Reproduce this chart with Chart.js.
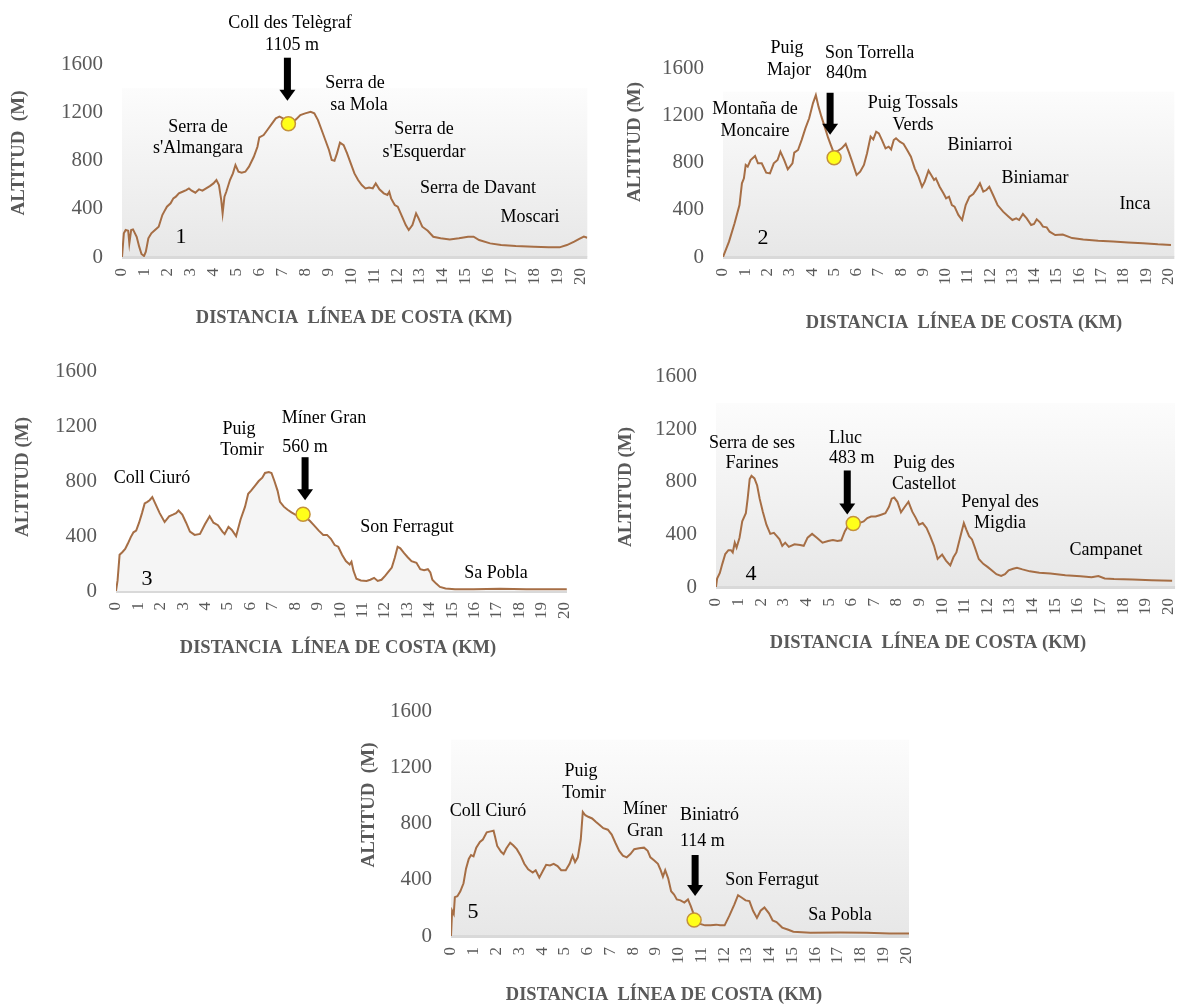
<!DOCTYPE html>
<html>
<head>
<meta charset="utf-8">
<script src="https://cdn.jsdelivr.net/npm/chart.js@4.4.1/dist/chart.umd.min.js"></script>
<style>
  html, body { margin: 0; padding: 0; background: #fff; overflow: hidden; width: 1178px; height: 1004px; position: relative; }
  canvas { position: absolute; }
</style>
</head>
<body>
<canvas id="c1"></canvas>
<canvas id="c2"></canvas>
<canvas id="c3"></canvas>
<canvas id="c4"></canvas>
<canvas id="c5"></canvas>
<script>
// ---- Elevation profiles: distance from the coast (km) and altitude (m) ----
const km1 = [0, 0.08, 0.16, 0.27, 0.32, 0.40, 0.48, 0.64, 0.75, 0.85, 0.96, 1.04, 1.15, 1.28, 1.44, 1.60, 1.76, 1.84, 1.96, 2.12, 2.24, 2.35, 2.48, 2.64, 2.80, 2.92, 3.04, 3.20, 3.36, 3.51, 3.67, 3.83, 3.99, 4.12, 4.23, 4.33, 4.39, 4.47, 4.55, 4.71, 4.84, 4.95, 5.08, 5.22, 5.38, 5.54, 5.75, 5.91, 5.99, 6.18, 6.34, 6.55, 6.71, 6.87, 7.11, 7.43, 7.59, 7.78, 7.99, 8.23, 8.39, 8.55, 8.71, 8.87, 9.03, 9.15, 9.27, 9.38, 9.51, 9.67, 9.82, 9.98, 10.14, 10.30, 10.46, 10.62, 10.78, 10.94, 11.07, 11.23, 11.42, 11.58, 11.66, 11.74, 11.90, 12.03, 12.22, 12.38, 12.51, 12.67, 12.83, 12.94, 13.10, 13.34, 13.58, 13.90, 14.30, 14.70, 15.10, 15.34, 15.58, 16.06, 16.54, 17.18, 17.97, 18.61, 19.09, 19.41, 19.73, 19.95, 20.15, 20.3];
const alt1 = [0, 196, 224, 218, 113, 224, 229, 168, 86, 25, 8, 44, 155, 196, 224, 251, 348, 376, 417, 445, 486, 500, 528, 541, 555, 569, 550, 533, 561, 550, 569, 588, 610, 638, 597, 472, 362, 500, 541, 638, 693, 762, 707, 699, 707, 749, 831, 914, 992, 1011, 1053, 1108, 1149, 1163, 1141, 1121, 1141, 1177, 1191, 1204, 1191, 1135, 1053, 970, 887, 804, 798, 859, 948, 928, 859, 776, 693, 638, 597, 569, 575, 569, 610, 561, 528, 514, 541, 486, 431, 417, 334, 265, 224, 265, 362, 320, 251, 218, 168, 155, 146, 155, 168, 168, 141, 113, 99, 91, 86, 80, 80, 99, 127, 150, 170, 160];

const km2 = [0, 0.27, 0.52, 0.74, 0.85, 0.94, 1.02, 1.11, 1.24, 1.44, 1.57, 1.74, 1.94, 2.11, 2.28, 2.45, 2.58, 2.75, 2.91, 3.12, 3.20, 3.37, 3.53, 3.70, 3.87, 4.04, 4.17, 4.29, 4.42, 4.59, 4.72, 4.84, 4.97, 5.13, 5.33, 5.51, 5.66, 5.80, 6.00, 6.16, 6.33, 6.47, 6.63, 6.75, 6.88, 7.00, 7.14, 7.30, 7.44, 7.55, 7.67, 7.77, 7.94, 8.11, 8.27, 8.44, 8.61, 8.78, 8.94, 9.06, 9.23, 9.35, 9.48, 9.56, 9.73, 9.90, 10.02, 10.15, 10.28, 10.40, 10.57, 10.74, 10.90, 11.07, 11.24, 11.41, 11.54, 11.69, 11.83, 11.96, 12.13, 12.33, 12.58, 12.83, 13.00, 13.17, 13.30, 13.47, 13.64, 13.84, 13.97, 14.09, 14.25, 14.37, 14.54, 14.67, 14.92, 15.26, 15.68, 16.18, 16.85, 17.52, 18.19, 18.86, 19.53, 20.12];
const alt2 = [0, 130, 285, 440, 624, 666, 779, 765, 821, 855, 793, 793, 714, 708, 793, 821, 892, 821, 742, 793, 883, 906, 990, 1089, 1174, 1301, 1371, 1273, 1188, 1089, 1010, 950, 885, 895, 920, 957, 883, 807, 694, 722, 779, 878, 1019, 996, 1061, 1047, 990, 920, 934, 911, 990, 1005, 976, 957, 906, 849, 751, 680, 595, 638, 731, 694, 652, 666, 595, 539, 497, 511, 440, 426, 356, 313, 440, 511, 533, 581, 624, 553, 567, 595, 525, 440, 384, 341, 313, 327, 313, 364, 327, 271, 279, 319, 291, 257, 251, 214, 186, 190, 160, 148, 138, 131, 123, 116, 107, 102];

const km3 = [0, 0.07, 0.16, 0.28, 0.41, 0.53, 0.66, 0.78, 0.90, 1.03, 1.16, 1.28, 1.40, 1.50, 1.62, 1.75, 1.95, 2.17, 2.37, 2.54, 2.68, 2.79, 2.96, 3.13, 3.30, 3.51, 3.75, 3.97, 4.18, 4.35, 4.55, 4.75, 4.85, 5.02, 5.17, 5.36, 5.56, 5.76, 5.90, 6.03, 6.20, 6.37, 6.53, 6.65, 6.82, 6.94, 7.07, 7.21, 7.32, 7.49, 7.66, 7.83, 8.00, 8.17, 8.50, 8.66, 8.83, 9.05, 9.25, 9.42, 9.59, 9.76, 9.92, 10.09, 10.26, 10.43, 10.51, 10.60, 10.73, 10.93, 11.18, 11.35, 11.52, 11.68, 11.85, 12.02, 12.19, 12.31, 12.44, 12.57, 12.69, 12.86, 13.02, 13.19, 13.41, 13.58, 13.75, 13.92, 14.03, 14.12, 14.29, 14.46, 14.71, 15.13, 15.96, 17.14, 18.31, 19.32, 20.12];
const alt3 = [0, 77, 264, 283, 306, 346, 393, 428, 440, 498, 568, 639, 650, 662, 685, 639, 568, 503, 545, 557, 568, 587, 557, 498, 433, 409, 416, 487, 545, 498, 480, 433, 416, 468, 445, 400, 522, 615, 709, 732, 767, 802, 826, 861, 868, 861, 802, 732, 650, 615, 592, 573, 557, 550, 533, 510, 480, 440, 409, 409, 381, 335, 323, 264, 218, 194, 213, 147, 89, 77, 73, 82, 96, 73, 82, 112, 147, 171, 241, 323, 311, 276, 246, 218, 206, 159, 152, 159, 136, 82, 54, 30, 19, 12, 12, 16, 12, 12, 12];

const km4 = [0, 0.05, 0.17, 0.28, 0.41, 0.55, 0.66, 0.74, 0.83, 0.91, 1.04, 1.16, 1.32, 1.40, 1.49, 1.57, 1.70, 1.82, 1.93, 2.07, 2.23, 2.40, 2.56, 2.69, 2.81, 2.93, 3.06, 3.22, 3.47, 3.72, 3.88, 4.05, 4.25, 4.46, 4.71, 4.96, 5.17, 5.37, 5.54, 5.70, 5.87, 6.05, 6.33, 6.53, 6.69, 6.86, 7.06, 7.27, 7.49, 7.65, 7.77, 7.88, 8.02, 8.18, 8.35, 8.51, 8.68, 8.84, 8.98, 9.14, 9.31, 9.47, 9.64, 9.80, 10.00, 10.17, 10.36, 10.50, 10.63, 10.83, 10.96, 11.07, 11.19, 11.32, 11.45, 11.62, 11.82, 12.02, 12.23, 12.40, 12.61, 12.78, 12.94, 13.14, 13.31, 13.55, 13.88, 14.30, 14.79, 15.45, 16.12, 16.61, 16.91, 17.19, 17.60, 18.43, 19.26, 20.17];
const alt4 = [0, 65, 107, 176, 251, 280, 280, 263, 337, 300, 375, 499, 561, 672, 821, 846, 826, 772, 672, 573, 474, 404, 412, 387, 362, 313, 337, 305, 325, 320, 313, 375, 404, 375, 337, 350, 357, 350, 355, 424, 474, 490, 486, 499, 524, 536, 536, 548, 561, 610, 672, 680, 648, 568, 610, 648, 573, 524, 474, 486, 449, 387, 313, 213, 246, 201, 164, 226, 263, 400, 486, 437, 387, 362, 300, 213, 176, 151, 122, 97, 84, 97, 127, 139, 146, 134, 119, 109, 102, 89, 82, 74, 84, 65, 60, 57, 52, 47];

const km5 = [0, 0.05, 0.12, 0.17, 0.28, 0.41, 0.55, 0.66, 0.78, 0.88, 0.99, 1.11, 1.27, 1.40, 1.57, 1.74, 1.87, 1.93, 2.03, 2.20, 2.31, 2.43, 2.60, 2.73, 2.89, 3.06, 3.22, 3.39, 3.59, 3.72, 3.88, 4.05, 4.18, 4.35, 4.51, 4.68, 4.84, 5.04, 5.21, 5.34, 5.45, 5.57, 5.70, 5.79, 5.90, 6.03, 6.20, 6.36, 6.53, 6.69, 6.89, 7.06, 7.22, 7.39, 7.55, 7.72, 7.88, 8.05, 8.26, 8.48, 8.64, 8.76, 8.93, 9.09, 9.21, 9.31, 9.41, 9.54, 9.67, 9.80, 9.92, 10.08, 10.25, 10.41, 10.53, 10.66, 10.91, 11.16, 11.40, 11.65, 11.82, 12.02, 12.23, 12.45, 12.61, 12.78, 12.94, 13.11, 13.27, 13.44, 13.60, 13.77, 13.97, 14.13, 14.30, 14.55, 14.79, 15.04, 15.79, 17.11, 18.26, 19.26, 20.12];
const alt5 = [0, 180, 157, 277, 284, 319, 376, 480, 550, 577, 568, 630, 670, 688, 739, 746, 751, 711, 642, 600, 584, 624, 665, 647, 619, 573, 515, 476, 453, 469, 416, 469, 508, 503, 515, 499, 469, 469, 515, 573, 527, 561, 688, 885, 861, 850, 838, 815, 792, 769, 758, 723, 665, 607, 573, 561, 584, 619, 626, 630, 607, 561, 538, 515, 469, 423, 469, 411, 319, 296, 261, 254, 238, 261, 215, 157, 88, 76, 76, 81, 76, 76, 145, 226, 291, 273, 254, 249, 180, 129, 180, 203, 162, 111, 99, 60, 46, 30, 23, 25, 23, 18, 18];

// Highlighted pass / village on each profile
const markerKm   = [7.26, 4.99, 8.35, 6.07, 10.68];
const markerAlt  = [1105, 840, 560, 483, 114];

// Axis ticks
const altTicks = [0, 400, 800, 1200, 1600];
const kmStep = 1;

// ---- Drawing styles ----
const SERIF = '"Liberation Serif", "Times New Roman", serif';
const AXIS_GREY = '#595959';
const LINE_BROWN = '#a66e45';
const X_TITLE = 'DISTANCIA  LÍNEA DE COSTA (KM)';

// Panel layout (page pixels) and the place names written on each panel
const panels = [
  {
    id: 'c1', km: km1, alt: alt1, box: {left: 0, top: 0, w: 612, h: 340},
    area: {left: 122, right: 600, top: 64, bottom: 257}, xMax: 20.3, shade: true, fillUnder: false,
    yTitle: {text: 'ALTITUD  (M)', x: 19, y: 153}, xTitle: {x: 354, y: 318},
    num: {text: '1', x: 181, y: 237},
    arrow: {dx: -1, gap: 23, len: 43},
    labels: [
      ['Coll des Telègraf', 290, 23, 'center'], ['1105 m', 292, 45, 'center'],
      ['Serra de', 198, 127, 'center'], ["s'Almangara", 198, 148, 'center'],
      ['Serra de', 355, 83, 'center'], ['sa Mola', 359, 105, 'center'],
      ['Serra de', 424, 129, 'center'], ["s'Esquerdar", 424, 152, 'center'],
      ['Serra de Davant', 478, 188, 'center'], ['Moscari', 530, 217, 'center']
    ]
  },
  {
    id: 'c2', km: km2, alt: alt2, box: {left: 610, top: 0, w: 590, h: 340},
    area: {left: 723, right: 1178, top: 68, bottom: 257}, xMax: 20.27, shade: true, fillUnder: false,
    yTitle: {text: 'ALTITUD (M)', x: 635, y: 142}, xTitle: {x: 964, y: 323},
    num: {text: '2', x: 763, y: 238},
    arrow: {dx: -4, gap: 23, len: 42},
    labels: [
      ['Puig', 787, 48, 'center'], ['Major', 789, 70, 'center'],
      ['Son Torrella', 825, 53, 'left'], ['840m', 826, 73, 'left'],
      ['Montaña de', 755, 109, 'center'], ['Moncaire', 755, 131, 'center'],
      ['Puig Tossals', 913, 103, 'center'], ['Verds', 913, 125, 'center'],
      ['Biniarroi', 980, 145, 'center'], ['Biniamar', 1035, 178, 'center'],
      ['Inca', 1135, 204, 'center']
    ]
  },
  {
    id: 'c3', km: km3, alt: alt3, box: {left: 0, top: 340, w: 600, h: 330},
    area: {left: 116, right: 567, top: 363, bottom: 591}, xMax: 20.13, shade: false, fillUnder: true,
    yTitle: {text: 'ALTITUD (M)', x: 23, y: 477}, xTitle: {x: 338, y: 648},
    num: {text: '3', x: 147, y: 579},
    arrow: {dx: 2, gap: 14, len: 43},
    labels: [
      ['Coll Ciuró', 152, 478, 'center'],
      ['Puig', 239, 429, 'center'], ['Tomir', 242, 450, 'center'],
      ['Míner Gran', 324, 418, 'center'], ['560 m', 305, 447, 'center'],
      ['Son Ferragut', 407, 527, 'center'], ['Sa Pobla', 496, 573, 'center']
    ]
  },
  {
    id: 'c4', km: km4, alt: alt4, box: {left: 600, top: 345, w: 600, h: 325},
    area: {left: 716, right: 1178, top: 372, bottom: 587}, xMax: 20.3, shade: true, fillUnder: false,
    yTitle: {text: 'ALTITUD (M)', x: 626, y: 487}, xTitle: {x: 928, y: 643},
    num: {text: '4', x: 751, y: 574},
    arrow: {dx: -6, gap: 9, len: 44},
    labels: [
      ['Serra de ses', 752, 443, 'center'], ['Farines', 752, 463, 'center'],
      ['Lluc', 829, 438, 'left'], ['483 m', 829, 458, 'left'],
      ['Puig des', 924, 463, 'center'], ['Castellot', 924, 484, 'center'],
      ['Penyal des', 1000, 502, 'center'], ['Migdia', 1000, 523, 'center'],
      ['Campanet', 1106, 550, 'center']
    ]
  },
  {
    id: 'c5', km: km5, alt: alt5, box: {left: 340, top: 680, w: 600, h: 324},
    area: {left: 451, right: 909, top: 705, bottom: 936}, xMax: 20.12, shade: true, fillUnder: false,
    yTitle: {text: 'ALTITUD  (M)', x: 369, y: 805}, xTitle: {x: 664, y: 995},
    num: {text: '5', x: 473, y: 912},
    arrow: {dx: 1, gap: 24, len: 41},
    labels: [
      ['Coll Ciuró', 488, 811, 'center'],
      ['Puig', 581, 771, 'center'], ['Tomir', 584, 793, 'center'],
      ['Míner', 645, 809, 'center'], ['Gran', 645, 831, 'center'],
      ['Biniatró', 680, 815, 'left'], ['114 m', 680, 841, 'left'],
      ['Son Ferragut', 772, 880, 'center'], ['Sa Pobla', 840, 915, 'center']
    ]
  }
];

// Background shading, baseline, arrow and text for one panel
function makeDecor(p) {
  const ox = p.box.left, oy = p.box.top;
  return {
    id: 'decor',
    beforeDatasetsDraw(chart) {
      const {ctx, chartArea: a, scales: {y}} = chart;
      const y0 = y.getPixelForValue(0);
      ctx.save();
      if (p.shade) {
        const yt = y.getPixelForValue(1400);
        const g = ctx.createLinearGradient(0, yt, 0, y0);
        g.addColorStop(0, '#fcfcfc');
        g.addColorStop(1, '#e7e7e7');
        ctx.fillStyle = g;
        ctx.fillRect(a.left, yt, a.right - a.left, y0 - yt);
      }
      ctx.fillStyle = '#d9d9d9';
      ctx.fillRect(a.left, y0 - 1, a.right - a.left, 3);
      ctx.restore();
    },
    afterDraw(chart) {
      const ctx = chart.ctx;
      ctx.save();
      // arrow pointing at the highlighted point
      const m = chart.getDatasetMeta(1).data[0];
      const tx = m.x + p.arrow.dx, ty = m.y - p.arrow.gap, top = ty - p.arrow.len;
      ctx.fillStyle = '#000';
      ctx.fillRect(tx - 3.5, top, 7, p.arrow.len - 10);
      ctx.beginPath();
      ctx.moveTo(tx - 8, ty - 11);
      ctx.lineTo(tx + 8, ty - 11);
      ctx.lineTo(tx, ty);
      ctx.closePath();
      ctx.fill();

      // place names
      ctx.textBaseline = 'middle';
      ctx.font = '18px ' + SERIF;
      p.labels.forEach(([t, x, y, al]) => {
        ctx.textAlign = al;
        ctx.fillText(t, x - ox, y - oy);
      });
      ctx.textAlign = 'center';
      ctx.font = '22px ' + SERIF;
      ctx.fillText(p.num.text, p.num.x - ox, p.num.y - oy);

      // axis titles
      ctx.fillStyle = AXIS_GREY;
      ctx.font = 'bold 18.5px ' + SERIF;
      ctx.fillText(X_TITLE, p.xTitle.x - ox, p.xTitle.y - oy);
      ctx.font = 'bold 19px ' + SERIF;
      ctx.translate(p.yTitle.x - ox, p.yTitle.y - oy);
      ctx.rotate(-Math.PI / 2);
      ctx.fillText(p.yTitle.text, 0, 0);
      ctx.restore();
    }
  };
}

panels.forEach((p, i) => {
  const cv = document.getElementById(p.id);
  cv.width = p.box.w; cv.height = p.box.h;
  cv.style.left = p.box.left + 'px'; cv.style.top = p.box.top + 'px';
  const n = Math.min(p.km.length, p.alt.length);
  const pts = [];
  for (let k = 0; k < n; k++) pts.push({x: p.km[k], y: p.alt[k]});
  const a = p.area, b = p.box;

  new Chart(cv, {
    type: 'line',
    data: {
      datasets: [
        {
          data: pts, borderColor: LINE_BROWN, borderWidth: 2, pointRadius: 0, tension: 0,
          fill: p.fillUnder ? 'origin' : false, backgroundColor: '#f5f5f5', order: 1
        },
        {
          data: [{x: markerKm[i], y: markerAlt[i]}], showLine: false, pointRadius: 7,
          pointBackgroundColor: '#ffff1a', pointBorderColor: '#c4923c', pointBorderWidth: 1.5, order: 0
        }
      ]
    },
    options: {
      responsive: false, animation: false, events: [],
      layout: {padding: {left: 0, top: a.top - b.top, right: b.left + b.w - a.right, bottom: 0}},
      plugins: {legend: {display: false}, tooltip: {enabled: false}},
      scales: {
        x: {
          type: 'linear', min: 0, max: p.xMax,
          grid: {display: false, drawTicks: false}, border: {display: false},
          afterFit: s => { s.height = b.top + b.h - a.bottom; },
          ticks: {
            stepSize: kmStep, autoSkip: false, includeBounds: false, maxRotation: 90, minRotation: 90,
            padding: 11, color: AXIS_GREY, font: {family: SERIF, size: 17},
            callback: v => String(Math.round(v))
          }
        },
        y: {
          min: altTicks[0], max: altTicks[altTicks.length - 1],
          grid: {display: false, drawTicks: false}, border: {display: false},
          afterFit: s => { s.width = a.left - b.left; },
          ticks: {
            stepSize: altTicks[1] - altTicks[0], padding: 19, color: AXIS_GREY,
            font: {family: SERIF, size: 21},
            callback: v => String(v)
          }
        }
      }
    },
    plugins: [makeDecor(p)]
  });
});
</script>
</body>
</html>
